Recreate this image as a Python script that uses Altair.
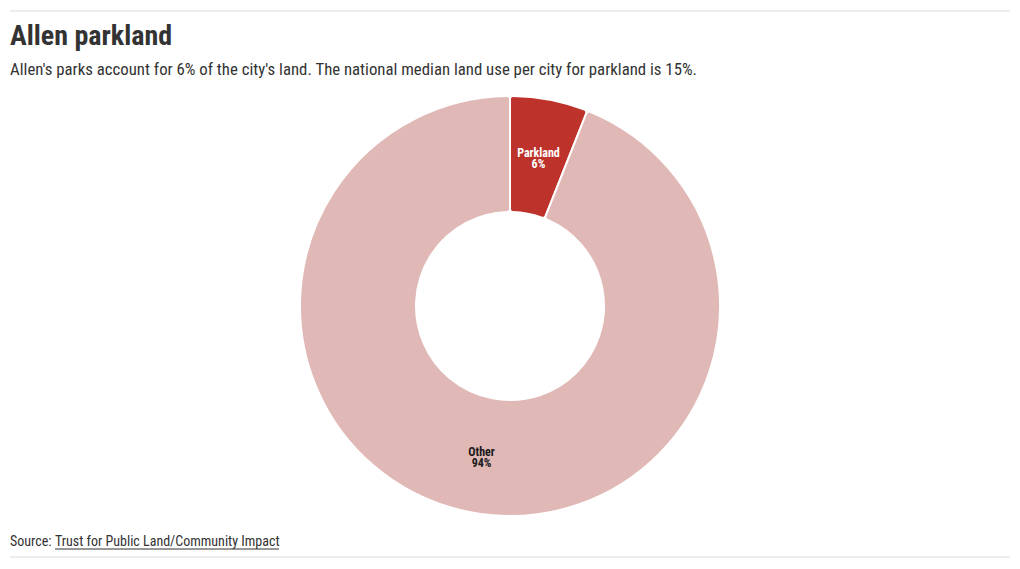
import altair as alt
import pandas as pd

categories = ["Parkland", "Other"]
shares = [6, 94]
slice_colors = ["#bd322b", "#e0b8b5"]
label_colors = ["#ffffff", "#1a1a1a"]

title_text = "Allen parkland"
subtitle_text = "Allen's parks account for 6% of the city's land. The national median land use per city for parkland is 15%."
source_prefix = "Source: "
source_link = "Trust for Public Land/Community Impact"

FONT = "Roboto Condensed, Liberation Sans Narrow, DejaVu Sans Condensed, Roboto, sans-serif"

df = pd.DataFrame({
    "category": categories,
    "share": shares,
    "order": list(range(len(categories))),
    "pct": [f"{v}%" for v in shares],
    "label_color": label_colors,
})

W, H = 1004, 553
CX, CY = 502, 298

color_scale = alt.Scale(domain=categories, range=slice_colors)

arcs = alt.Chart(df).mark_arc(
    stroke="white", strokeWidth=2, cornerRadius=3,
).encode(
    theta=alt.Theta("share:Q", stack=True),
    order=alt.Order("order:Q"),
    color=alt.Color("category:N", scale=color_scale, legend=None),
    x=alt.value(CX), y=alt.value(CY),
    radius=alt.value(210), radius2=alt.value(94),
)


def label_layer(field, dy):
    return alt.Chart(df).mark_text(
        font=FONT, fontSize=12, fontWeight="bold",
        baseline="middle", align="center", dy=dy,
    ).encode(
        theta=alt.Theta("share:Q", stack=True),
        order=alt.Order("order:Q"),
        text=f"{field}:N",
        fill=alt.Fill("label_color:N", scale=None),
        x=alt.value(CX), y=alt.value(CY),
        radius=alt.value(152),
    )


name_labels = label_layer("category", -3.6)
pct_labels = label_layer("pct", 7.8)

base = alt.Chart(pd.DataFrame({"k": [0]}))

top_rule = base.mark_rule(color="#d9d9d9", strokeWidth=1).encode(
    x=alt.value(2), x2=alt.value(1002), y=alt.value(3))
bottom_rule = base.mark_rule(color="#d9d9d9", strokeWidth=1).encode(
    x=alt.value(2), x2=alt.value(1002), y=alt.value(549))

title = base.mark_text(font=FONT, fontSize=28, fontWeight="bold", color="#333333",
                       align="left", baseline="alphabetic").encode(
    x=alt.value(2), y=alt.value(37), text=alt.value(title_text))
subtitle = base.mark_text(font=FONT, fontSize=16.8, color="#333333",
                          align="left", baseline="alphabetic").encode(
    x=alt.value(2), y=alt.value(67), text=alt.value(subtitle_text))
src1 = base.mark_text(font=FONT, fontSize=14, color="#333333",
                      align="left", baseline="alphabetic").encode(
    x=alt.value(2), y=alt.value(538), text=alt.value(source_prefix))
src2 = base.mark_text(font=FONT, fontSize=14, color="#333333",
                      align="left", baseline="alphabetic").encode(
    x=alt.value(47), y=alt.value(538), text=alt.value(source_link))
underline = base.mark_rule(color="#333333", strokeWidth=1).encode(
    x=alt.value(47), x2=alt.value(271), y=alt.value(541))

chart = alt.layer(top_rule, bottom_rule, arcs, name_labels, pct_labels,
                  title, subtitle, src1, src2, underline).properties(
    width=W, height=H, padding=0, autosize=alt.AutoSizeParams(type="none"),
    background="white",
).configure_view(stroke=None)

chart.save("out.html", embed_options={"renderer": "svg", "actions": False})
